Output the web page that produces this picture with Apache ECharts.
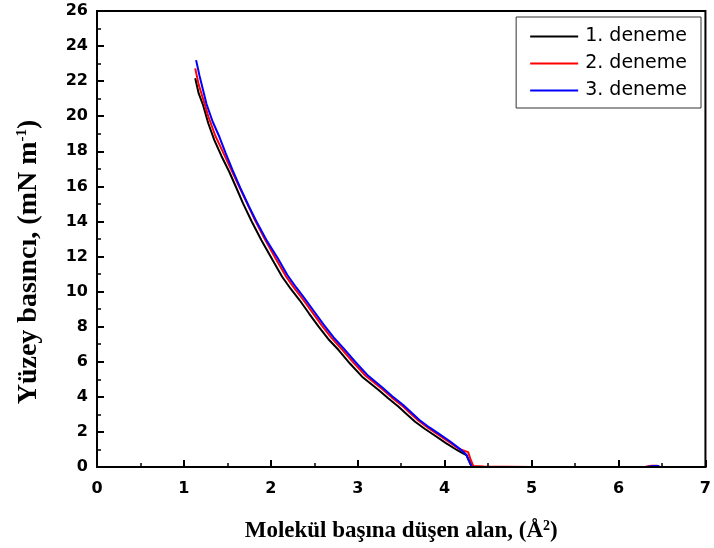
<!DOCTYPE html>
<html><head><meta charset="utf-8">
<script src="https://cdn.jsdelivr.net/npm/echarts@6/dist/echarts.min.js"></script>
<style>html,body{margin:0;padding:0;background:#fff}#c{width:714px;height:548px}</style>
</head><body><div id="c"></div>
<script>
const seriesNames = ['1. deneme', '2. deneme', '3. deneme'];
const colors = ['#000000', '#ff0000', '#0000ff'];
const xTitle = ['Molekül başına düşen alan, (Å', '2', ')'];
const yTitle = ['Yüzey basıncı, (mN m', '-1', ')'];

const x1 = [1.13,1.17,1.22,1.28,1.35,1.43,1.52,1.60,1.68,1.78,1.89,2.02,2.13,2.23,2.33,2.44,2.55,2.66,2.78,2.91,3.05,3.24,3.35,3.47,3.57,3.66,3.77,3.89,4.01,4.14,4.20,4.25,4.28,4.31,4.40,5.00,5.50,6.00,6.30];
const y1 = [22.16,21.3,20.64,19.6,18.64,17.75,16.85,15.95,15.03,14.0,12.94,11.8,10.85,10.15,9.52,8.75,8.0,7.3,6.67,5.9,5.15,4.39,3.92,3.44,2.98,2.58,2.18,1.78,1.38,0.97,0.8,0.68,0.35,0.02,0.0,0.0,0.0,0.0,0.0];

const x2 = [1.13,1.17,1.22,1.28,1.36,1.45,1.54,1.63,1.72,1.82,1.93,2.06,2.17,2.27,2.37,2.48,2.59,2.70,2.82,2.95,3.09,3.28,3.39,3.51,3.61,3.70,3.81,3.93,4.05,4.16,4.23,4.27,4.30,4.33,4.45,5.00,5.50,6.00,6.30,6.38,6.45];
const y2 = [22.73,21.8,21.0,20.0,18.9,17.95,17.0,16.05,15.1,14.05,13.0,11.85,10.9,10.2,9.55,8.8,8.05,7.35,6.7,5.95,5.2,4.45,3.97,3.5,3.04,2.64,2.23,1.83,1.43,1.05,0.91,0.85,0.4,0.05,0.03,0.0,0.0,0.0,0.0,0.07,0.07];

const x3 = [1.14,1.18,1.22,1.26,1.33,1.41,1.48,1.56,1.65,1.75,1.85,1.96,2.08,2.19,2.29,2.39,2.50,2.61,2.72,2.84,2.97,3.11,3.29,3.40,3.52,3.62,3.71,3.82,3.94,4.06,4.17,4.25,4.28,4.31,4.40,5.00,5.50,6.00,6.32,6.40,6.47];
const y3 = [23.2,22.3,21.5,20.7,19.7,18.8,17.9,16.93,15.9,14.84,13.85,12.85,11.9,10.95,10.25,9.6,8.85,8.1,7.4,6.75,6.0,5.25,4.5,4.02,3.55,3.09,2.68,2.27,1.87,1.47,1.05,0.7,0.35,0.02,0.0,0.0,0.0,0.0,0.0,0.06,0.06];

const xs = [x1, x2, x3];
const ys = [y1, y2, y3];

const chart = echarts.init(document.getElementById('c'));
const tickFont = {fontFamily: 'DejaVu Sans', fontWeight: 'bold', fontSize: 16, color: '#000'};
const serif = 'Liberation Serif';
chart.setOption({
  animation: false,
  backgroundColor: '#fff',
  grid: {left: 97, right: 5, top: 11, bottom: 81, show: true, borderColor: '#000', borderWidth: 2, backgroundColor: 'transparent'},
  legend: {
    orient: 'vertical', right: 13, top: 17,
    borderColor: '#333', borderWidth: 1, padding: [10, 14, 8, 14],
    itemGap: 8, itemWidth: 48, itemHeight: 2, icon: 'rect',
    textStyle: {fontFamily: 'DejaVu Sans', fontSize: 19, color: '#000', padding: [0,0,0,2]},
    data: seriesNames
  },
  graphic: [{
    type: 'text', x: 29, y: 262, rotation: Math.PI / 2,
    style: {
      text: '{a|' + yTitle[0] + '}{s|' + yTitle[1] + '}{a|' + yTitle[2] + '}',
      align: 'center', verticalAlign: 'middle',
      rich: {
        a: {fontFamily: serif, fontWeight: 'bold', fontSize: 28, fill: '#000'},
        s: {fontFamily: serif, fontWeight: 'bold', fontSize: 15, fill: '#000', verticalAlign: 'top', padding: [0,0,14,0]}
      }
    }
  }],
  xAxis: {
    type: 'value', min: 0, max: 7, interval: 1, z: 10,
    axisLine: {show: true, lineStyle: {color: '#000', width: 2}},
    axisTick: {show: true, inside: true, length: 7, lineStyle: {color: '#000', width: 2}},
    minorTick: {show: true, splitNumber: 2, length: 4, lineStyle: {color: '#000', width: 1.5}},
    splitLine: {show: false},
    axisLabel: Object.assign({margin: 14}, tickFont),
    name: '{a|' + xTitle[0] + '}{s|' + xTitle[1] + '}{a|' + xTitle[2] + '}',
    nameLocation: 'middle', nameGap: 52,
    nameTextStyle: {rich: {
      a: {fontFamily: serif, fontWeight: 'bold', fontSize: 23, color: '#000'},
      s: {fontFamily: serif, fontWeight: 'bold', fontSize: 14, color: '#000', verticalAlign: 'top', padding: [0,0,11,0]}
    }}
  },
  yAxis: {
    type: 'value', min: 0, max: 26, interval: 2,
    axisLine: {show: true, lineStyle: {color: '#000', width: 2}},
    axisTick: {show: true, inside: true, length: 7, lineStyle: {color: '#000', width: 2}},
    minorTick: {show: true, splitNumber: 2, length: 4, lineStyle: {color: '#000', width: 1.5}},
    splitLine: {show: false},
    axisLabel: Object.assign({margin: 9}, tickFont)
  },
  series: seriesNames.map((n, i) => ({
    name: n, type: 'line', showSymbol: false, symbol: 'none',
    data: xs[i].map((v, j) => [v, ys[i][j]]),
    lineStyle: {color: colors[i], width: 2}, itemStyle: {color: colors[i]},
    z: 3 + i
  }))
});
</script></body></html>
